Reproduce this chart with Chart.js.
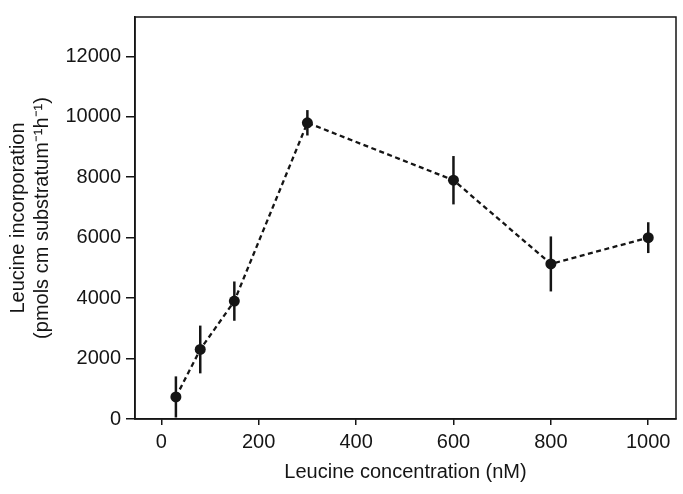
<!DOCTYPE html>
<html>
<head>
<meta charset="utf-8">
<script src="https://cdn.jsdelivr.net/npm/chart.js@4/dist/chart.umd.min.js"></script>
<style>
  html, body { margin: 0; padding: 0; background: #fff; }
</style>
</head>
<body>
<canvas id="leuChart" width="683" height="494"></canvas>
<script>
// Leucine concentration (nM) vs incorporation, mean +/- error
const concentration = [30, 80, 150, 300, 600, 800, 1000];
const incorporation = [730, 2300, 3900, 9800, 7900, 5130, 6000];
const errorSize     = [680, 790, 650, 420, 800, 910, 510];

const xTicks = [0, 200, 400, 600, 800, 1000];
const yTicks = [0, 2000, 4000, 6000, 8000, 10000, 12000];

const INK = '#151515';
const FONT = "'Liberation Sans', Arial, sans-serif";

// box round the plot area (top + right sides too)
const frame = {
  id: 'frame',
  afterDraw(chart) {
    const { ctx, chartArea: a } = chart;
    ctx.save();
    ctx.strokeStyle = INK;
    ctx.lineWidth = 1.5;
    ctx.strokeRect(a.left, a.top, a.right - a.left, a.bottom - a.top);
    ctx.restore();
  }
};

// vertical error bars, no caps
const errorBars = {
  id: 'errorBars',
  beforeDatasetsDraw(chart) {
    const { ctx, scales: { x, y } } = chart;
    ctx.save();
    ctx.strokeStyle = INK;
    ctx.lineWidth = 2.5;
    concentration.forEach((c, i) => {
      const px = x.getPixelForValue(c);
      ctx.beginPath();
      ctx.moveTo(px, y.getPixelForValue(incorporation[i] - errorSize[i]));
      ctx.lineTo(px, y.getPixelForValue(incorporation[i] + errorSize[i]));
      ctx.stroke();
    });
    ctx.restore();
  }
};

new Chart(document.getElementById('leuChart').getContext('2d'), {
  type: 'scatter',
  data: {
    datasets: [{
      data: concentration.map((c, i) => ({ x: c, y: incorporation[i] })),
      showLine: true,
      borderColor: INK,
      borderWidth: 2.3,
      borderDash: [5, 3.5],
      pointRadius: 5.5,
      pointBackgroundColor: INK,
      pointBorderColor: INK,
      pointBorderWidth: 0,
      tension: 0
    }]
  },
  options: {
    responsive: false,
    animation: false,
    devicePixelRatio: 1,
    layout: { padding: { top: 10, right: 7, left: 0, bottom: 0 } },
    plugins: {
      legend: { display: false },
      tooltip: { enabled: false }
    },
    scales: {
      x: {
        type: 'linear',
        min: -54,
        max: 1057,
        afterBuildTicks: s => { s.ticks = xTicks.map(v => ({ value: v })); },
        afterFit: s => { s.height = 75; },
        border: { display: true, color: INK, width: 1.5 },
        grid: { drawOnChartArea: false, drawTicks: true, tickLength: 6, color: INK, lineWidth: 1.5 },
        ticks: {
          color: INK, padding: 5, maxRotation: 0,
          font: { family: FONT, size: 20 },
          callback: v => String(v)
        },
        title: {
          display: true,
          text: 'Leucine concentration (nM)',
          color: INK,
          padding: { top: 0, bottom: 10 },
          font: { family: FONT, size: 20 }
        }
      },
      y: {
        min: 0,
        max: 13300,
        afterBuildTicks: s => { s.ticks = yTicks.map(v => ({ value: v })); },
        afterFit: s => { s.width = 135; },
        border: { display: true, color: INK, width: 1.5 },
        grid: { drawOnChartArea: false, drawTicks: true, tickLength: 9, color: INK, lineWidth: 1.5 },
        ticks: {
          color: INK, padding: 5,
          font: { family: FONT, size: 20 },
          callback: v => String(v)
        },
        title: {
          display: true,
          text: ['Leucine incorporation', '(pmols cm substratum\u207B\u00B9h\u207B\u00B9)'],
          color: INK,
          padding: { top: 6, bottom: 0 },
          font: { family: FONT, size: 20 }
        }
      }
    }
  },
  plugins: [errorBars, frame]
});
</script>
</body>
</html>
